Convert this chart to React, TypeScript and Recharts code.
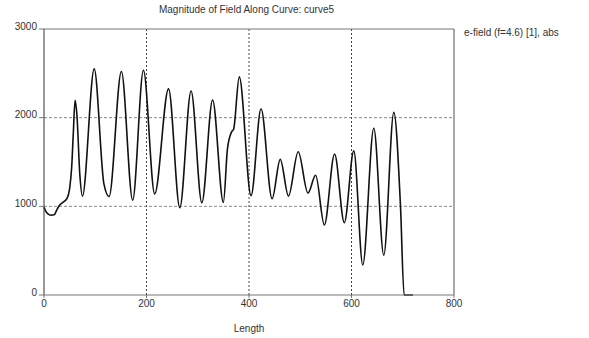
import React from 'react';
import { LineChart, Line, XAxis, YAxis, ReferenceLine } from 'recharts';

const lengths = [0, 5, 13, 20, 25, 30, 38, 45, 50, 54, 57, 60.6, 64, 70, 75, 98, 117, 127, 151, 173, 194, 216, 243, 265, 287, 308, 329, 350, 358, 366, 370, 381, 404, 423.5, 445, 461, 477, 496, 515, 530, 547, 567, 586, 604.5, 622, 643.5, 663, 682.6, 695.6, 702.7, 720];
const fieldValues = [990, 930, 900, 905, 960, 1010, 1050, 1090, 1200, 1440, 1800, 2195, 2050, 1350, 1115, 2550, 1250, 1110, 2520, 1070, 2535, 1140, 2325, 985, 2300, 1040, 2200, 1045, 1650, 1840, 1870, 2460, 1120, 2100, 1085, 1530, 1115, 1615, 1150, 1350, 790, 1590, 815, 1625, 340, 1880, 450, 2060, 1000, 0, 0];

const xTicks = [0, 200, 400, 600, 800];
const yTicks = [0, 1000, 2000, 3000];
const titleText = 'Magnitude of Field Along Curve: curve5';
const seriesName = 'e-field (f=4.6) [1], abs';
const xLabel = 'Length';

const data = lengths.map((x, i) => ({ x, y: fieldValues[i] }));

const font = '"Liberation Sans", Arial, sans-serif';

export default function App() {
  return (
    <div style={{ position: 'absolute', left: 0, top: 0, width: 589, height: 338, background: '#fff', fontFamily: font }}>
      <div style={{ position: 'absolute', left: 0, width: 493, top: 4, textAlign: 'center', fontSize: 10, color: '#333' }}>{titleText}</div>
      <div style={{ position: 'absolute', left: 464, top: 27, fontSize: 10, color: '#333', whiteSpace: 'nowrap' }}>{seriesName}</div>
      <LineChart width={589} height={338} data={data} margin={{ top: 29, right: 135, left: 0, bottom: 0 }}>
        {[1000, 2000].map((v) => (
          <ReferenceLine key={'h' + v} y={v} stroke="#888" strokeDasharray="3 2" />
        ))}
        {[200, 400, 600].map((v) => (
          <ReferenceLine key={'v' + v} x={v} stroke="#444" strokeDasharray="2 2" />
        ))}
        <ReferenceLine y={3000} stroke="#777" />
        <ReferenceLine x={800} stroke="#555" />
        <XAxis
          dataKey="x"
          type="number"
          domain={[0, 800]}
          ticks={xTicks}
          height={43}
          stroke="#777"
          tickSize={3}
          tick={{ fontSize: 10, fill: '#333', fontFamily: font }}
          label={{ value: xLabel, position: 'insideBottom', offset: 6, fontSize: 10, fill: '#333', fontFamily: font }}
        />
        <YAxis
          type="number"
          domain={[0, 3000]}
          ticks={yTicks}
          width={44}
          stroke="#333"
          tickSize={5}
          tickLine={{ stroke: '#777' }}
          tick={{ fontSize: 10, fill: '#333', fontFamily: font, dy: -3 }}
        />
        <Line dataKey="y" type="monotone" stroke="#111" strokeWidth={1.6} dot={false} isAnimationActive={false} />
      </LineChart>
    </div>
  );
}
